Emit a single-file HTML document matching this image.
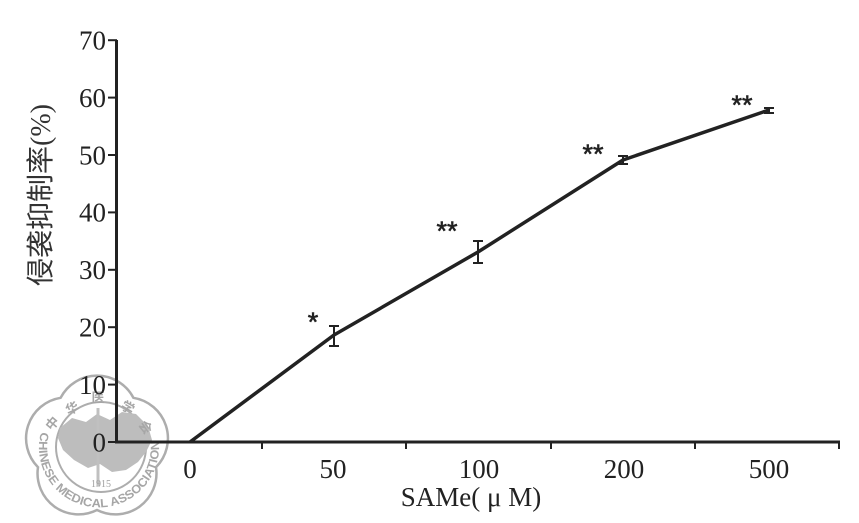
<!DOCTYPE html>
<html><head><meta charset="utf-8"><style>
html,body{margin:0;padding:0;background:#fff;}
svg{display:block;}
</style></head><body>
<svg width="859" height="523" viewBox="0 0 859 523" xmlns="http://www.w3.org/2000/svg">
<!-- watermark logo -->
<g fill="none" stroke="#adadad">
<path d="M 60.6 397.8 A 41 41 0 0 1 133.4 397.8 A 41 41 0 0 1 156 467.2 A 41 41 0 0 1 97 510 A 41 41 0 0 1 38 467.2 A 41 41 0 0 1 60.6 397.8 Z" stroke-width="2.5"/>
<circle cx="101" cy="447" r="45" stroke-width="2"/>
</g>
<path d="M60 428 L72 418 L86 422 L97 414 L110 420 L122 412 L136 414 L148 426 L152 440 L146 452 L138 462 L126 470 L112 472 L100 464 L88 468 L74 460 L63 450 L58 438 Z" fill="#bdbdbd"/>
<line x1="98" y1="408" x2="98" y2="486" stroke="#c0c0c0" stroke-width="3"/>
<g fill="#a6a6a6" font-family="'Noto Sans CJK SC', sans-serif" font-size="13" font-weight="bold" text-anchor="middle">
<text x="52" y="428" transform="rotate(-50 52 423)">中</text>
<text x="72" y="413" transform="rotate(-25 72 408)">华</text>
<text x="98" y="402">医</text>
<text x="128" y="412" transform="rotate(30 128 407)">学</text>
<text x="146" y="432" transform="rotate(55 146 427)">会</text>
</g>
<defs><path id="arc" d="M 41 432 A 60 60 0 1 0 157 432"/></defs>
<text font-family="'Liberation Sans', sans-serif" font-size="12" font-weight="bold" fill="#a6a6a6"><textPath href="#arc" textLength="210" lengthAdjust="spacingAndGlyphs">CHINESE MEDICAL ASSOCIATION</textPath></text>
<text x="101" y="487" font-family="'Liberation Serif', serif" font-size="10" fill="#a0a0a0" text-anchor="middle">1915</text>

<!-- axes -->
<g stroke="#222" stroke-width="3" fill="none">
<line x1="116.5" y1="40" x2="116.5" y2="443.5"/>
<line x1="115" y1="442" x2="840" y2="442"/>
</g>
<g stroke="#222" stroke-width="2">
<line x1="108" y1="40.2" x2="117" y2="40.2"/>
<line x1="108" y1="97.6" x2="117" y2="97.6"/>
<line x1="108" y1="155" x2="117" y2="155"/>
<line x1="108" y1="212.4" x2="117" y2="212.4"/>
<line x1="108" y1="269.8" x2="117" y2="269.8"/>
<line x1="108" y1="327.2" x2="117" y2="327.2"/>
<line x1="108" y1="384.6" x2="117" y2="384.6"/>
<line x1="108" y1="442" x2="117" y2="442"/>
<line x1="262" y1="442" x2="262" y2="449"/>
<line x1="406" y1="442" x2="406" y2="449"/>
<line x1="551" y1="442" x2="551" y2="449"/>
<line x1="695" y1="442" x2="695" y2="449"/>
<line x1="839" y1="442" x2="839" y2="449"/>
</g>
<g font-family="'Liberation Serif', serif" font-size="27" fill="#222" text-anchor="end">
<text x="106" y="49.5">70</text>
<text x="106" y="106.9">60</text>
<text x="106" y="164.3">50</text>
<text x="106" y="221.7">40</text>
<text x="106" y="279.1">30</text>
<text x="106" y="336.5">20</text>
<text x="106" y="393.9">10</text>
<text x="106" y="451.3">0</text>
</g>
<g font-family="'Liberation Serif', serif" font-size="27" fill="#222" text-anchor="middle">
<text x="190" y="478">0</text>
<text x="333" y="478">50</text>
<text x="479" y="478">100</text>
<text x="624" y="478">200</text>
<text x="769" y="478">500</text>
<text x="471" y="506">SAMe( μ M)</text>
</g>
<text transform="translate(50 195) rotate(-90)" font-family="'Liberation Serif', 'Noto Sans CJK SC', serif" font-size="28" fill="#333" text-anchor="middle">侵袭抑制率(%)</text>

<!-- series -->
<polyline points="190,442 334,335 478,252 623,160 769,110" fill="none" stroke="#222" stroke-width="3.5" stroke-linejoin="round"/>
<g stroke="#222" stroke-width="2" fill="none">
<path d="M334 326 V346 M329 326 H339 M329 346 H339"/>
<path d="M478 241 V263 M473 241 H483 M473 263 H483"/>
<path d="M623 156 V164 M618 156 H628 M618 164 H628"/>
<path d="M769 108 V113 M764 108 H774 M764 113 H774"/>
</g>
<g font-family="'Liberation Sans', sans-serif" font-size="27" fill="#222" text-anchor="middle" stroke="#222" stroke-width="0.6">
<text x="313" y="331">*</text>
<text x="447" y="240">**</text>
<text x="593" y="163">**</text>
<text x="742" y="114">**</text>
</g>
</svg>
</body></html>
